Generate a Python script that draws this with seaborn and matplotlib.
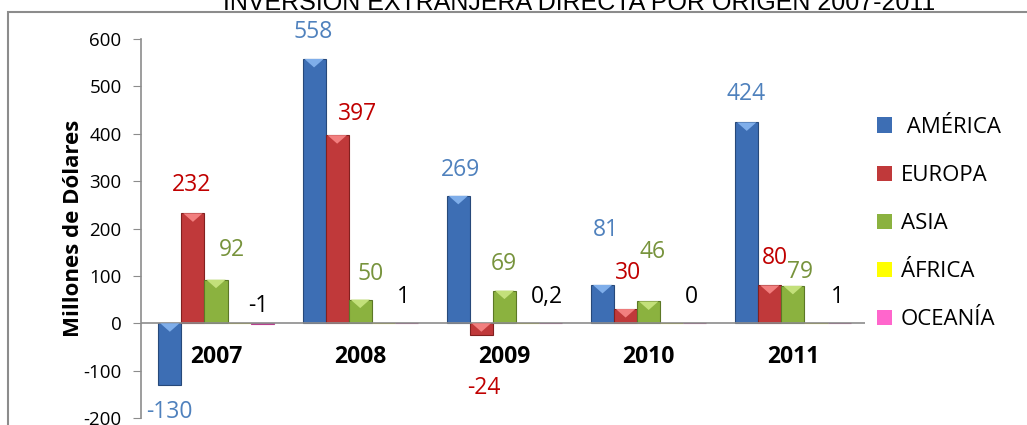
import numpy as np
import pandas as pd
import matplotlib
matplotlib.use('Agg')
import matplotlib.pyplot as plt
from matplotlib.patches import Polygon, Rectangle
import seaborn as sns

# data (millones de dólares)
years = ['2007', '2008', '2009', '2010', '2011']
regions = [' AMÉRICA', 'EUROPA', 'ASIA', 'ÁFRICA', 'OCEANÍA']
america = [-130, 558, 269, 81, 424]
europa = [232, 397, -24, 30, 80]
asia = [92, 50, 69, 46, 79]
africa = [0, 0, 0.2, 0, 0]
oceania = [-1, 1, 0, 0, 1]

# data labels as printed on the chart
america_lbl = ['-130', '558', '269', '81', '424']
europa_lbl = ['232', '397', '-24', '30', '80']
asia_lbl = ['92', '50', '69', '46', '79']
africa_lbl = ['', '', '0,2', '', '']
oceania_lbl = ['-1', '1', '', '0', '1']

plt.rcParams['font.family'] = ['Open Sans', 'DejaVu Sans']
plt.rcParams['axes.unicode_minus'] = False

# styling
bar_colors = ['#3D6EB4', '#C0393A', '#8BB23F', '#FFFF00', '#FF66CC']
edge_colors = ['#27497A', '#82201F', '#5C7826', '#B8B800', '#B8408F']
bevel_colors = ['#7FAEEA', '#F27F7F', '#C3E07A', '#FFFF99', '#FFA6E0']
label_colors = ['#4F81BD', '#C00000', '#77933C', '#000000', '#000000']
# label offsets in pixels (dx, dy from bar end)
label_offsets = [
    [(0, -27), (-1, 27), (2, 26), (3, 55), (-1, 28)],
    [(-1, 28), (20, 21), (2, -53), (2, 36), (5, 27)],
    [(16, 30), (10, 26), (-1, 27), (4, 49), (7, 14)],
    [(0, 26), (0, 26), (19, 26), (0, 26), (0, 26)],
    [(-4, 18), (-3, 26), (0, 26), (-3, 26), (-2, 26)],
]

df = pd.DataFrame({
    'year': np.tile(years, len(regions)),
    'region': np.repeat(regions, len(years)),
    'value': america + europa + asia + africa + oceania,
})

fig = plt.figure(figsize=(10.27, 4.25), dpi=100)
ax = fig.add_axes([141 / 1027, 1 - 418 / 425, 724 / 1027, 379 / 425])

sns.barplot(data=df, x='year', y='value', hue='region', palette=bar_colors,
            saturation=1, width=0.8, ax=ax, errorbar=None)

ax.set_xlim(-0.52, 4.5)
ax.set_ylim(-200, 600)
ax.set_yticks(range(-200, 601, 100))
ax.tick_params(axis='y', direction='out', length=6, color='#8C8C8C', pad=8,
               labelsize=13.5)
ax.tick_params(axis='x', length=0, labelbottom=False)
for s in ['top', 'right', 'bottom']:
    ax.spines[s].set_visible(False)
ax.spines['left'].set_color('#8C8C8C')
ax.spines['left'].set_linewidth(1.2)
ax.axhline(0, color='#8C8C8C', lw=1.2, zorder=1)
ax.set_xlabel('')
ax.set_ylabel('Millones de Dólares', fontsize=16, fontweight='bold')
ax.yaxis.set_label_coords(-0.079, 0.5)

all_lbls = [america_lbl, europa_lbl, asia_lbl, africa_lbl, oceania_lbl]
for i, cont in enumerate(ax.containers):
    for j, bar in enumerate(cont):
        bar.set_edgecolor(edge_colors[i])
        bar.set_linewidth(0.8)
        x0 = bar.get_x()
        w = bar.get_width()
        y0 = bar.get_y()
        h = bar.get_height()
        top = max(y0, y0 + h)
        depth = min(abs(h), 18)
        if abs(h) > 2:
            tri = Polygon([(x0 + w * 0.08, top), (x0 + w * 0.92, top),
                           (x0 + w / 2, top - depth)],
                          closed=True, facecolor=bevel_colors[i],
                          edgecolor='none', zorder=3)
            ax.add_patch(tri)
        txt = all_lbls[i][j]
        if txt:
            dx, dy = label_offsets[i][j]
            end = y0 + h
            ax.annotate(txt, (x0 + w / 2, end), xytext=(dx, dy),
                        textcoords='offset pixels', ha='center', va='center',
                        fontsize=16.5, color=label_colors[i])

# year labels under the zero line
for k, yr in enumerate(years):
    ax.annotate(yr, (k, 0), xytext=(0, -34), textcoords='offset pixels',
                ha='center', va='center', fontsize=16.5, fontweight='bold')

ax.legend(loc='upper left', bbox_to_anchor=(868 / 1027, 1 - 108 / 425),
          bbox_transform=fig.transFigure, frameon=False, fontsize=16,
          handlelength=0.68, handleheight=0.68, handletextpad=0.4,
          labelspacing=1.22, borderaxespad=0, title=None)

# outer chart frame
fig.patches.append(Rectangle((8 / 1027, -0.1), 1.2, 1.1 - 11.5 / 425,
                             transform=fig.transFigure, fill=False,
                             edgecolor='#8C8C8C', lw=1.5))

fig.text(579 / 1027, 1 - 10 / 425, 'INVERSIÓN EXTRANJERA DIRECTA POR ORIGEN 2007-2011',
         ha='center', va='baseline', fontsize=18, family='Liberation Sans')

plt.savefig('out.png', dpi=100)
